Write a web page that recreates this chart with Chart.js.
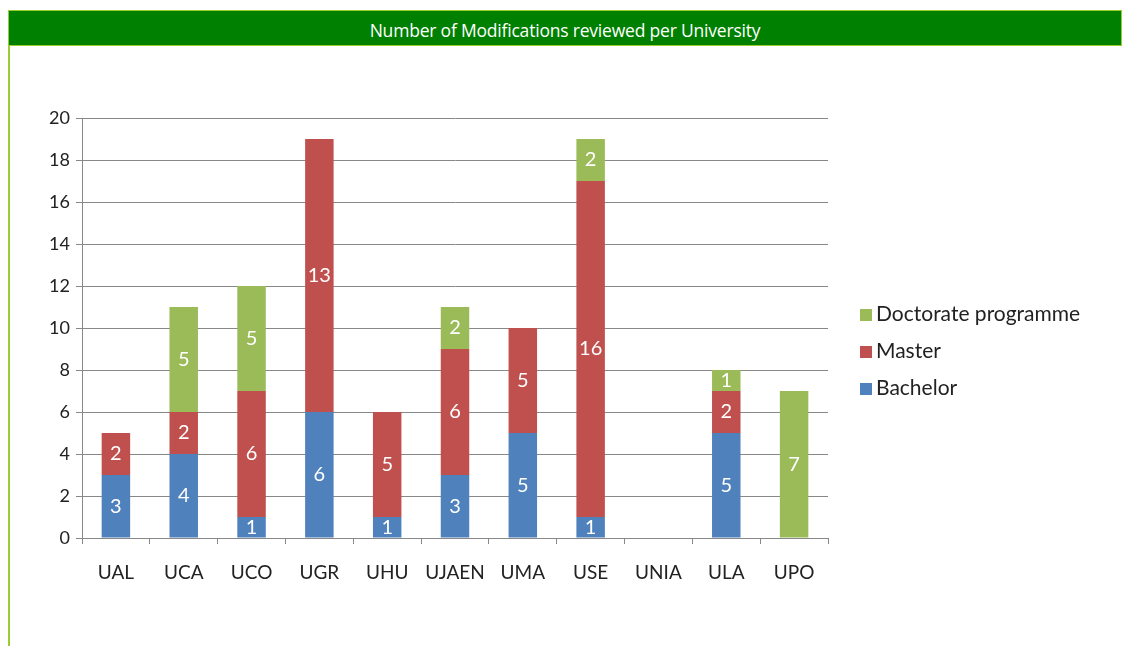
<!DOCTYPE html>
<html>
<head>
<meta charset="utf-8">
<script src="https://cdn.jsdelivr.net/npm/chart.js@4"></script>
<style>
  body { margin: 0; background: #fff; overflow: hidden; }
  #frame { position: absolute; left: 8px; top: 10px; width: 1114px; height: 636px; border-left: 2px solid #9ACD32; box-sizing: border-box; }
  #title { position: absolute; left: 8px; top: 10px; width: 1114px; height: 36px; box-sizing: border-box;
    background: #008000; border: 1px solid #9ACD32; color: #fff; font: 17.5px "Open Sans", sans-serif;
    text-align: center; line-height: 38px; letter-spacing: -0.2px; }
  #wrap { position: absolute; left: 0; top: 0; width: 1122px; height: 646px; }
  #legend { position: absolute; left: 860px; top: 300px; font: 21px Lato, sans-serif; color: #222; }
  #legend div { height: 37px; line-height: 26px; }
  #legend span { display: inline-block; width: 12px; height: 12px; margin-right: 4px; }
</style>
</head>
<body>
<div id="frame"></div>
<div id="wrap"><canvas id="barChart" width="1122" height="646"></canvas></div>
<div id="title">Number of Modifications reviewed per University</div>
<div id="legend"></div>
<script>
var universities = ["UAL", "UCA", "UCO", "UGR", "UHU", "UJAEN", "UMA", "USE", "UNIA", "ULA", "UPO"];
var bachelor  = [3, 4, 1, 6, 1, 3, 5, 1, 0, 5, 0];
var master    = [2, 2, 6, 13, 5, 6, 5, 16, 0, 2, 0];
var doctorate = [0, 5, 5, 0, 0, 2, 0, 2, 0, 1, 7];
var yTicks = [0, 2, 4, 6, 8, 10, 12, 14, 16, 18, 20];

var blue = "#4F81BD", red = "#C0504D", green = "#9BBB59";

// white numbers in the middle of each segment
var barLabels = {
    id: "barLabels",
    afterDatasetsDraw: function(chart) {
        var ctx = chart.ctx;
        ctx.save();
        ctx.fillStyle = "#fff";
        ctx.font = "20px Lato, sans-serif";
        ctx.textAlign = "center";
        ctx.textBaseline = "middle";
        chart.data.datasets.forEach(function(ds, i) {
            chart.getDatasetMeta(i).data.forEach(function(bar, j) {
                if (!ds.data[j]) return;
                ctx.fillText(ds.data[j], bar.x, (bar.y + bar.base) / 2);
            });
        });
        ctx.restore();
    }
};

new Chart("barChart", {
    type: "bar",
    data: {
        labels: universities,
        datasets: [
            { label: "Bachelor", data: bachelor, backgroundColor: blue },
            { label: "Master", data: master, backgroundColor: red },
            { label: "Doctorate programme", data: doctorate, backgroundColor: green }
        ]
    },
    options: {
        responsive: false,
        animation: false,
        layout: { padding: { left: 20, right: 294, top: 118, bottom: 0 } },
        plugins: { legend: { display: false }, tooltip: { enabled: false } },
        datasets: { bar: { barPercentage: 0.6, categoryPercentage: 0.7 } },
        scales: {
            x: {
                stacked: true,
                afterFit: function(s) { s.height = 108; },
                grid: { offset: true, drawOnChartArea: false, tickLength: 6, color: "#888" },
                border: { color: "#888" },
                ticks: { color: "#222", font: { family: "Lato", size: 19 }, padding: 17 }
            },
            y: {
                stacked: true,
                min: 0, max: 20,
                afterFit: function(s) { s.width = 62; },
                afterBuildTicks: function(s) { s.ticks = yTicks.map(function(v) { return { value: v }; }); },
                grid: { color: "#888", tickLength: 6 },
                border: { color: "#888" },
                ticks: { color: "#222", font: { family: "Lato", size: 18 }, padding: 6 }
            }
        }
    },
    plugins: [barLabels]
});

var legend = document.getElementById("legend");
[["Doctorate programme", green], ["Master", red], ["Bachelor", blue]].forEach(function(it) {
    var d = document.createElement("div");
    d.innerHTML = '<span style="background:' + it[1] + '"></span>' + it[0];
    legend.appendChild(d);
});
</script>
</body>
</html>
